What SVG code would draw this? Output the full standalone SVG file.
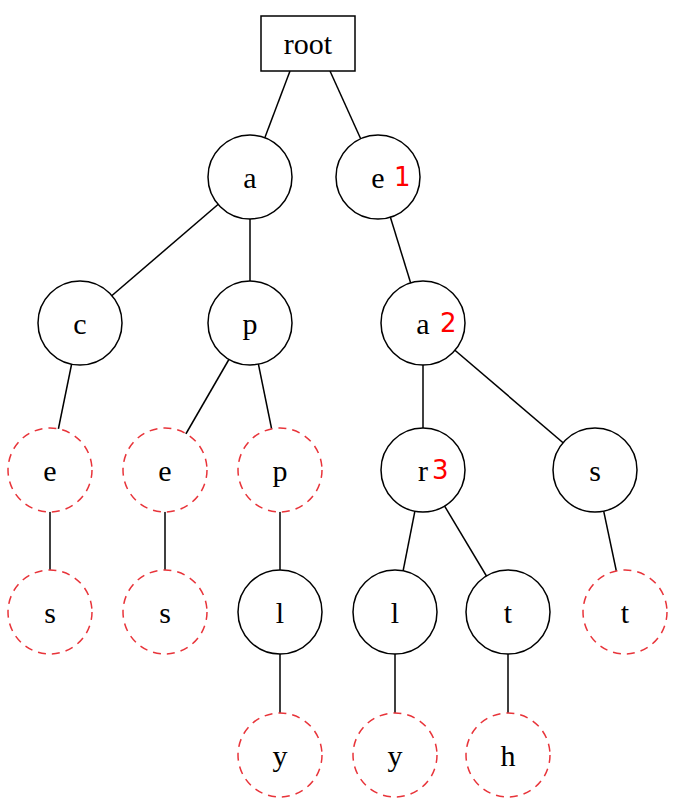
<svg xmlns="http://www.w3.org/2000/svg" width="674" height="810" viewBox="0 0 674 810">
<style>
.n{fill:#fff;stroke:#000;stroke-width:1.5}
.d{fill:#fff;stroke:#e8343a;stroke-width:1.5;stroke-dasharray:8,6}
.t{font-family:"Liberation Serif",serif;font-size:30px;text-anchor:middle;dominant-baseline:central}
.r{font-family:"DejaVu Sans",sans-serif;font-size:26px;fill:#f00;dominant-baseline:central}
#edges line{stroke:#000;stroke-width:1.5}
</style>
<rect width="674" height="810" fill="#fff"/>
<g id="edges">
<line x1="290" y1="71" x2="250" y2="177"/>
<line x1="330" y1="71" x2="378" y2="177"/>
<line x1="250" y1="177" x2="80" y2="323"/>
<line x1="250" y1="177" x2="250" y2="323"/>
<line x1="378" y1="177" x2="423" y2="323"/>
<line x1="80" y1="323" x2="50" y2="470"/>
<line x1="250" y1="323" x2="165" y2="470"/>
<line x1="250" y1="323" x2="280" y2="470"/>
<line x1="423" y1="323" x2="423" y2="470"/>
<line x1="423" y1="323" x2="595" y2="470"/>
<line x1="50" y1="470" x2="50" y2="612"/>
<line x1="165" y1="470" x2="165" y2="612"/>
<line x1="280" y1="470" x2="280" y2="612"/>
<line x1="423" y1="470" x2="395" y2="612"/>
<line x1="423" y1="470" x2="508" y2="612"/>
<line x1="595" y1="470" x2="625" y2="612"/>
<line x1="280" y1="612" x2="280" y2="755"/>
<line x1="395" y1="612" x2="395" y2="755"/>
<line x1="508" y1="612" x2="508" y2="755"/>
</g>
<g id="root"><rect class="n" x="261" y="16" width="94" height="55"/><text class="t" x="308" y="43">root</text></g>
<g id="a"><circle class="n" cx="250" cy="177" r="42"/><text class="t" x="250" y="177">a</text></g>
<g id="e1"><circle class="n" cx="378" cy="177" r="42"/><text class="t" x="378" y="177">e</text><text class="r" x="394" y="177">1</text></g>
<g id="c"><circle class="n" cx="80" cy="323" r="42"/><text class="t" x="80" y="323">c</text></g>
<g id="p"><circle class="n" cx="250" cy="323" r="42"/><text class="t" x="250" y="323">p</text></g>
<g id="a2"><circle class="n" cx="423" cy="323" r="42"/><text class="t" x="423" y="323">a</text><text class="r" x="440" y="323">2</text></g>
<g id="ce"><circle class="d" cx="50" cy="470" r="42"/><text class="t" x="50" y="470">e</text></g>
<g id="pe"><circle class="d" cx="165" cy="470" r="42"/><text class="t" x="165" y="470">e</text></g>
<g id="pp"><circle class="d" cx="280" cy="470" r="42"/><text class="t" x="280" y="470">p</text></g>
<g id="r3"><circle class="n" cx="423" cy="470" r="42"/><text class="t" x="423" y="470">r</text><text class="r" x="432" y="470">3</text></g>
<g id="s"><circle class="n" cx="595" cy="470" r="42"/><text class="t" x="595" y="470">s</text></g>
<g id="ces"><circle class="d" cx="50" cy="612" r="42"/><text class="t" x="50" y="612">s</text></g>
<g id="pes"><circle class="d" cx="165" cy="612" r="42"/><text class="t" x="165" y="612">s</text></g>
<g id="l1"><circle class="n" cx="280" cy="612" r="42"/><text class="t" x="280" y="612">l</text></g>
<g id="l2"><circle class="n" cx="395" cy="612" r="42"/><text class="t" x="395" y="612">l</text></g>
<g id="t1"><circle class="n" cx="508" cy="612" r="42"/><text class="t" x="508" y="612">t</text></g>
<g id="t2"><circle class="d" cx="625" cy="612" r="42"/><text class="t" x="625" y="612">t</text></g>
<g id="y1"><circle class="d" cx="280" cy="755" r="42"/><text class="t" x="280" y="755">y</text></g>
<g id="y2"><circle class="d" cx="395" cy="755" r="42"/><text class="t" x="395" y="755">y</text></g>
<g id="h"><circle class="d" cx="508" cy="755" r="42"/><text class="t" x="508" y="755">h</text></g>
</svg>
